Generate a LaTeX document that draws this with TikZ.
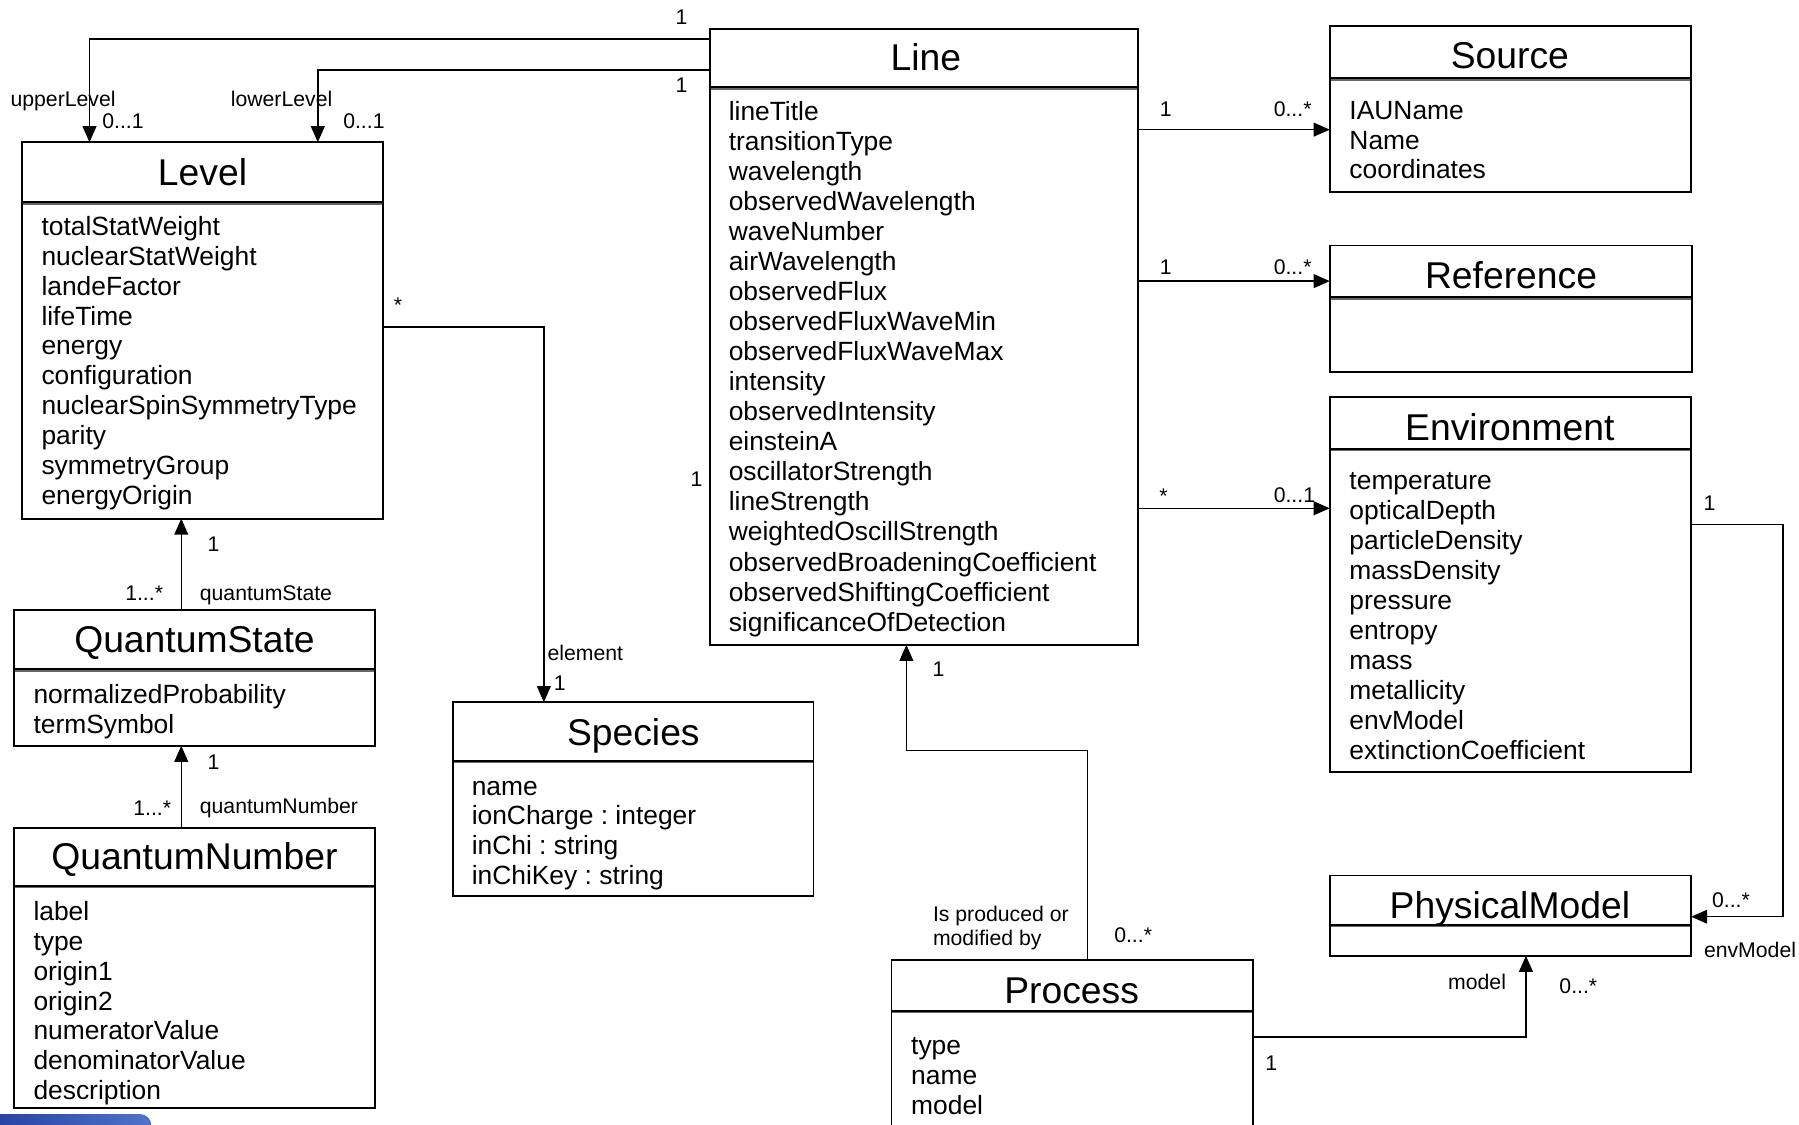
\documentclass[tikz,border=0pt]{standalone}
\usepackage{fontspec}
\setmainfont{Liberation Sans}
\usetikzlibrary{arrows.meta,calc}
\definecolor{barblue}{RGB}{40,68,165}
\definecolor{barlight}{RGB}{80,115,200}
\frenchspacing
\tikzset{
  cls/.style={draw=black, line width=1.6pt, inner sep=0pt, outer sep=0pt, anchor=north west, fill=white},
  sepline/.style={line width=1.6pt, black},
  sepshade/.style={line width=1.2pt, black!60},
  ttl/.style={font=\fontsize{32.5}{39}\selectfont, inner sep=0pt, anchor=base},
  attr/.style={font=\fontsize{23}{26}\selectfont, inner sep=0pt, anchor=base west},
  lbl/.style={font=\fontsize{18.5}{21}\selectfont, inner sep=0pt, anchor=base},
  conn/.style={line width=1.3pt, black},
  arr/.style={conn, -{Triangle[length=14pt,width=12pt]}},
}
\begin{document}
\begin{tikzpicture}[x=1pt,y=-1pt]
\clip (0,0) rectangle (1568,980);
\fill[white] (0,0) rectangle (1568,980);

% ---------- class boxes ----------
\node[cls, minimum width=315, minimum height=328] (level) at (19,124) {};
\node[cls, minimum width=373, minimum height=537] (line) at (619,25) {};
\node[cls, minimum width=315, minimum height=144] (source) at (1159,23) {};
\node[cls, minimum width=316, minimum height=110] (reference) at (1159,214) {};
\node[cls, minimum width=315, minimum height=327] (env) at (1159,346) {};
\node[cls, minimum width=315, minimum height=70] (pm) at (1159,763) {};
\node[cls, minimum width=315, minimum height=200] (process) at (777,837) {};
\node[cls, minimum width=315, minimum height=118] (qs) at (12,532) {};
\node[cls, minimum width=315, minimum height=244] (qn) at (12,722) {};
\node[cls, minimum width=314, minimum height=169] (species) at (395,612) {};

% ---------- title separators ----------
\foreach \b/\d in {level/52, line/51, source/45, reference/45, env/45, pm/43, process/44, qs/51, qn/50, species/51}{
  \draw[sepshade] ($(\b.north west)+(0.8,\d+1.7)$) -- ($(\b.north east)+(-0.8,\d+1.7)$);
  \draw[sepline] ($(\b.north west)+(0,\d)$) -- ($(\b.north east)+(0,\d)$);
}

% ---------- titles ----------
\node[ttl] (level-t) at (176.5,161.5) {Level};
\node[ttl] (line-t) at (807,61.5) {Line};
\node[ttl] (source-t) at (1316,59.5) {Source};
\node[ttl] (reference-t) at (1317,251.5) {Reference};
\node[ttl] (env-t) at (1316,383.5) {Environment};
\node[ttl] (pm-t) at (1316,800.5) {PhysicalModel};
\node[ttl] (process-t) at (934,874.5) {Process};
\node[ttl] (qs-t) at (169.5,568.5) {QuantumState};
\node[ttl] (qn-t) at (169.5,757.5) {QuantumNumber};
\node[ttl] (species-t) at (552,649.5) {Species};

% ---------- attributes ----------
\foreach \t [count=\i from 0] in {totalStatWeight, nuclearStatWeight, landeFactor, lifeTime, energy, configuration, nuclearSpinSymmetryType, parity, symmetryGroup, energyOrigin}
  \node[attr] (level-a\i) at (36,{205+\i*26.1}) {\t};
\foreach \t [count=\i from 0] in {lineTitle, transitionType, wavelength, observedWavelength, waveNumber, airWavelength, observedFlux, observedFluxWaveMin, observedFluxWaveMax, intensity, observedIntensity, einsteinA, oscillatorStrength, lineStrength, weightedOscillStrength, observedBroadeningCoefficient, observedShiftingCoefficient, significanceOfDetection}
  \node[attr] (line-a\i) at (635,{105+\i*26.18}) {\t};
\foreach \t [count=\i from 0] in {IAUName, Name, coordinates}
  \node[attr] (source-a\i) at (1176,{104+\i*26}) {\t};
\foreach \t [count=\i from 0] in {temperature, opticalDepth, particleDensity, massDensity, pressure, entropy, mass, metallicity, envModel, extinctionCoefficient}
  \node[attr] (env-a\i) at (1176,{427+\i*26.1}) {\t};
\foreach \t [count=\i from 0] in {type, name, model}
  \node[attr] (process-a\i) at (794,{919+\i*26}) {\t};
\foreach \t [count=\i from 0] in {normalizedProbability, termSymbol}
  \node[attr] (qs-a\i) at (29,{613+\i*26}) {\t};
\foreach \t [count=\i from 0] in {label, type, origin1, origin2, numeratorValue, denominatorValue, description}
  \node[attr] (qn-a\i) at (29,{802+\i*26.1}) {\t};
\foreach \t [count=\i from 0] in {name, ionCharge : integer, inChi : string, inChiKey : string}
  \node[attr] (species-a\i) at (411,{693+\i*26}) {\t};

% ---------- connectors ----------
\draw[arr] ($(line.north west)+(0,9)$) -| ($(level.north west)+(59,0)$);
\draw[arr] ($(line.north west)+(0,36)$) -| ($(level.north west)+(258,0)$);
\draw[arr] ($(level.north east)+(0,161)$) -| ($(species.north west)+(79,0)$);
\draw[arr] ($(qs.north west)+(146,0)$) coordinate (qsup) -- (qsup |- level.south);
\draw[arr] ($(qn.north west)+(146,0)$) coordinate (qnup) -- (qnup |- qs.south);
\draw[arr] ($(line.north east)+(0,88)$) coordinate (l2s) -- (l2s -| source.west);
\draw[arr] ($(line.north east)+(0,220)$) coordinate (l2r) -- (l2r -| reference.west);
\draw[arr] ($(line.north east)+(0,418)$) coordinate (l2e) -- (l2e -| env.west);
\draw[arr] ($(env.north east)+(0,111)$) -- ++(80,0) |- ($(pm.north east)+(0,36)$);
\draw[arr] ($(process.north west)+(171,0)$) -- ++(0,-183) -| ($(line.south west)+(171,0)$);
\draw[arr] ($(process.north east)+(0,67)$) -| ($(pm.south west)+(171,0)$);

% ---------- connector labels ----------
\node[lbl] (m1) at (594,21.6) {1};
\node[lbl] (m2) at (594,80.6) {1};
\node[lbl, anchor=base west] (m3) at (9,92.6) {upperLevel};
\node[lbl, anchor=base west] (m4) at (89,111.6) {0...1};
\node[lbl, anchor=base west] (m5) at (201,92.6) {lowerLevel};
\node[lbl, anchor=base west] (m6) at (299,111.6) {0...1};
\node[lbl] (m7) at (347,272) {*};
\node[lbl, anchor=base west] (m8) at (477,575.6) {element};
\node[lbl] (m9) at (488,601.6) {1};
\node[lbl] (m10) at (186,480.6) {1};
\node[lbl, anchor=base west] (m11) at (109,523.6) {1...*};
\node[lbl, anchor=base west] (m12) at (174,523.6) {quantumState};
\node[lbl] (m13) at (186,670.6) {1};
\node[lbl, anchor=base west] (m14) at (116,710.6) {1...*};
\node[lbl, anchor=base west] (m15) at (174,708.6) {quantumNumber};
\node[lbl] (m16) at (1016,101.6) {1};
\node[lbl, anchor=base west] (m17) at (1110,101.6) {0...*};
\node[lbl] (m18) at (1016,239.6) {1};
\node[lbl, anchor=base west] (m19) at (1110,239.6) {0...*};
\node[lbl] (m20) at (1014,439) {*};
\node[lbl, anchor=base west] (m21) at (1110,437.6) {0...1};
\node[lbl] (m22) at (607,423.6) {1};
\node[lbl] (m23) at (1490,444.6) {1};
\node[lbl, anchor=base west] (m24) at (1492,790.6) {0...*};
\node[lbl, anchor=base west] (m25) at (1485,834.6) {envModel};
\node[lbl] (m26) at (818,589.6) {1};
\node[lbl, anchor=north west, align=left, font=\fontsize{18.5}{21}\selectfont] (m27) at (813,789.5) {Is produced or\\modified by};
\node[lbl, anchor=base west] (m28) at (971,821.6) {0...*};
\node[lbl] (m29) at (1108,932.6) {1};
\node[lbl, anchor=base west] (m30) at (1262,862.6) {model};
\node[lbl, anchor=base west] (m31) at (1359,865.6) {0...*};

% ---------- slide artefact (blue bar, bottom left) ----------
\shade[left color=barblue, right color=barlight] (0,971) -- (122,971) to[out=0,in=90] (132,981) -- (0,981) -- cycle;
\end{tikzpicture}
\end{document}
